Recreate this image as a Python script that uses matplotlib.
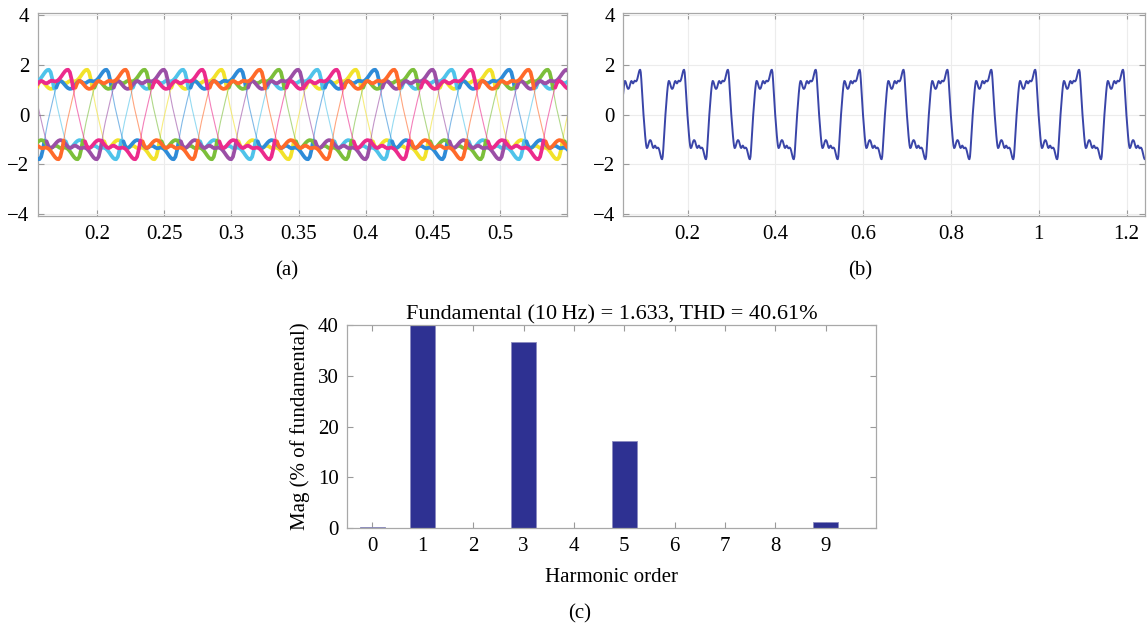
import numpy as np
import matplotlib
matplotlib.use("Agg")
import matplotlib.pyplot as plt

plt.rcParams["font.family"] = ["Liberation Serif", "DejaVu Serif"]
plt.rcParams["font.size"] = 15
plt.rcParams["axes.unicode_minus"] = True

# ---------- data ----------
PERIOD = 0.1  # 10 Hz fundamental
PHASE_STEP = 0.0125

# one period of the output voltage, sampled every PHASE_STEP of a period,
# starting at the rising zero crossing
WAVE_VALUE = [
    0.00, 0.30, 0.58, 0.85, 1.08, 1.26, 1.35, 1.34, 1.28, 1.20,
    1.12, 1.06, 1.03, 1.04, 1.08, 1.16, 1.25, 1.32, 1.35, 1.32,
    1.27, 1.25, 1.28, 1.33, 1.36, 1.35, 1.33, 1.34, 1.38, 1.45,
    1.54, 1.64, 1.73, 1.79, 1.80, 1.70, 1.42, 1.05, 0.65, 0.30,
    0.00, -0.30, -0.58, -0.85, -1.08, -1.26, -1.35, -1.34, -1.28, -1.20,
    -1.12, -1.06, -1.03, -1.04, -1.08, -1.16, -1.25, -1.32, -1.35, -1.32,
    -1.27, -1.25, -1.28, -1.33, -1.36, -1.35, -1.33, -1.34, -1.38, -1.45,
    -1.54, -1.64, -1.73, -1.79, -1.80, -1.70, -1.42, -1.05, -0.65, -0.30,
]

# seven phases: rising zero crossing time of each leg
PHASE_OFFSETS = [0.0217, 0.0360, 0.0503, 0.0646, 0.0789, 0.0931, 0.1074]
PHASE_COLORS = ["#4fc3ea", "#ec2a8c", "#f2e22a", "#2e8bd8",
                "#ff6a2a", "#7cbf3a", "#9b4fa6"]
DRAW_ORDER = [2, 0, 3, 5, 6, 4, 1]

# single leg
LEG_OFFSET = 0.0496

# harmonic spectrum (% of fundamental)
HARM_ORDER = [0, 1, 2, 3, 4, 5, 6, 7, 8, 9]
HARM_MAG = [0.2, 100.0, 0.1, 36.6, 0.05, 17.2, 0.15, 0.1, 0.1, 1.3]
FUND_AMP = 1.633
THD = 40.61


def tile_wave(offset, t0, t1):
    """Repeat the measured period over [t0, t1]."""
    v = np.array(WAVE_VALUE)
    ph = np.arange(len(v)) * PHASE_STEP
    k0 = int(np.floor((t0 - offset) / PERIOD)) - 1
    k1 = int(np.ceil((t1 - offset) / PERIOD)) + 1
    t = np.concatenate([offset + (k + ph) * PERIOD for k in range(k0, k1)])
    y = np.tile(v, k1 - k0)
    return t, y


def style_axes(ax):
    ax.tick_params(direction="in", top=True, right=True, length=4,
                   color="#9a9a9a", width=0.8, pad=6)
    for s in ax.spines.values():
        s.set_color("#a8a8a8")
        s.set_linewidth(0.9)
    ax.set_axisbelow(True)


W, H = 1147, 628
fig = plt.figure(figsize=(W / 100, H / 100), dpi=100)


def px_axes(left, top, right, bottom):
    return fig.add_axes([left / W, 1 - bottom / H, (right - left) / W,
                         (bottom - top) / H])


# ---------- (a) seven-phase voltages ----------
ax_a = px_axes(37.7, 12.6, 567.3, 216.4)
xa = (0.1558, 0.55)
for i in DRAW_ORDER:
    t, y = tile_wave(PHASE_OFFSETS[i], *xa)
    c = PHASE_COLORS[i]
    ax_a.plot(t, y, color=c, lw=0.8, alpha=0.6, zorder=2)
    ythick = np.where(np.abs(y) >= 1.0, y, np.nan)
    ax_a.plot(t, ythick, color=c, lw=2.7, solid_capstyle="round",
              solid_joinstyle="round", zorder=3)
ax_a.set_xlim(*xa)
ax_a.set_ylim(-4.1, 4.1)
ax_a.set_xticks([0.2, 0.25, 0.3, 0.35, 0.4, 0.45, 0.5])
ax_a.set_xticklabels(["0.2", "0.25", "0.3", "0.35", "0.4", "0.45", "0.5"])
ax_a.set_yticks([-4, -2, 0, 2, 4])
ax_a.grid(color="#ececec", lw=0.8)
style_axes(ax_a)

# ---------- (b) single leg ----------
ax_b = px_axes(623.3, 12.6, 1145.0, 216.4)
xb = (0.0536, 1.242)
t, y = tile_wave(LEG_OFFSET, *xb)
ax_b.plot(t, y, color="#3a45a8", lw=1.4, solid_joinstyle="round")
ax_b.set_xlim(*xb)
ax_b.set_ylim(-4.1, 4.1)
ax_b.set_xticks([0.2, 0.4, 0.6, 0.8, 1.0, 1.2])
ax_b.set_xticklabels(["0.2", "0.4", "0.6", "0.8", "1", "1.2"])
ax_b.set_yticks([-4, -2, 0, 2, 4])
ax_b.grid(color="#ececec", lw=0.8)
style_axes(ax_b)

# ---------- (c) FFT ----------
ax_c = px_axes(347.3, 325.0, 876.0, 528.3)
ax_c.bar(HARM_ORDER, HARM_MAG, width=0.5, color="#2e3192",
         edgecolor="#8c8cc0", linewidth=0.6)
ax_c.set_xlim(-0.5, 10)
ax_c.set_ylim(0, 40)
ax_c.set_xticks(HARM_ORDER)
ax_c.set_yticks([0, 10, 20, 30, 40])
ax_c.set_xlabel("Harmonic order", labelpad=9)
ax_c.set_ylabel("Mag (% of fundamental)", labelpad=6)
ax_c.set_title(f"Fundamental (10\u2009Hz) = {FUND_AMP:.3f}, THD = {THD:.2f}%",
               fontsize=16, pad=4)
style_axes(ax_c)

# panel labels
fig.text(287 / W, 1 - 271 / H, "(a)", ha="center", va="center")
fig.text(860 / W, 1 - 271 / H, "(b)", ha="center", va="center")
fig.text(580 / W, 1 - 614 / H, "(c)", ha="center", va="center")

fig.savefig("out.png", dpi=100, facecolor="white")
